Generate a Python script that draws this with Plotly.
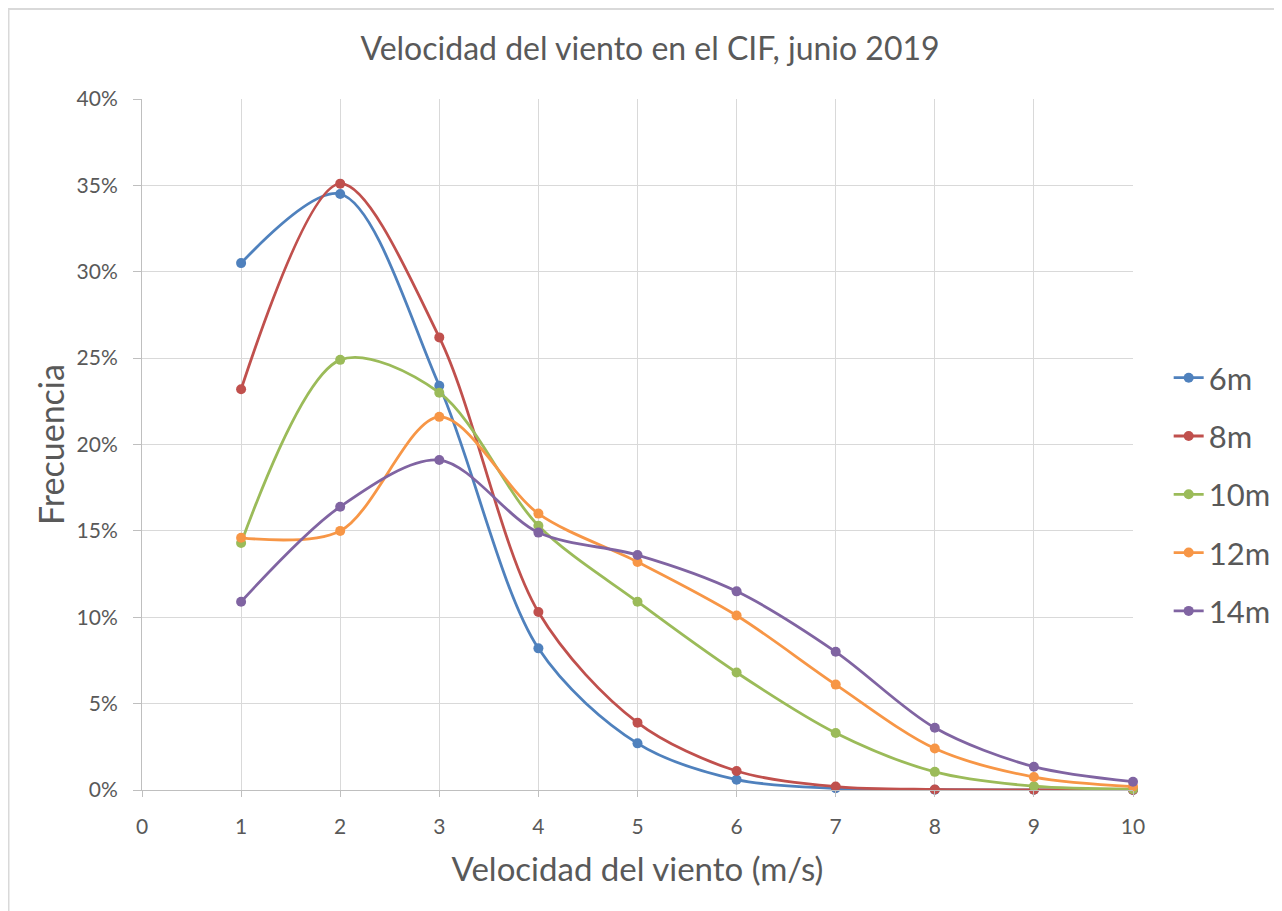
import plotly.graph_objects as go

velocidad = [1, 2, 3, 4, 5, 6, 7, 8, 9, 10]
series_names = ["6m", "8m", "10m", "12m", "14m"]
f_6m = [0.305, 0.345, 0.234, 0.082, 0.027, 0.006, 0.001, 0.0002, 0.0001, 0.0]
f_8m = [0.232, 0.351, 0.262, 0.103, 0.039, 0.011, 0.002, 0.0003, 0.0001, 0.0]
f_10m = [0.143, 0.249, 0.230, 0.153, 0.109, 0.068, 0.033, 0.0105, 0.0022, 0.0005]
f_12m = [0.146, 0.150, 0.216, 0.160, 0.132, 0.101, 0.061, 0.024, 0.0075, 0.002]
f_14m = [0.109, 0.164, 0.191, 0.149, 0.136, 0.115, 0.080, 0.036, 0.0135, 0.0048]
colors = ["#4F81BD", "#C0504D", "#9BBB59", "#F79646", "#8064A2"]
y_ticks = [0, 0.05, 0.10, 0.15, 0.20, 0.25, 0.30, 0.35, 0.40]
x_ticks = [0, 1, 2, 3, 4, 5, 6, 7, 8, 9, 10]

FONT = "Lato"
GRID = "#D9D9D9"
TXT = "#595959"

W, H = 1282, 911
L, T, R, B = 134, 91, 157, 129

fig = go.Figure()
for name, vals, col in zip(series_names, [f_6m, f_8m, f_10m, f_12m, f_14m], colors):
    fig.add_trace(go.Scatter(
        x=velocidad, y=vals, name=name, mode="lines+markers",
        line=dict(color=col, width=2.8, shape="spline", smoothing=0.9),
        marker=dict(color=col, size=10),
        legendgroup=name, cliponaxis=False,
    ))

pw = W - L - R
ph = H - T - B

fig.update_layout(
    width=W, height=H,
    paper_bgcolor="white", plot_bgcolor="white",
    margin=dict(l=L, r=R, t=T, b=B),
    title=dict(text="Velocidad del viento en el CIF, junio 2019",
               x=(642 - L) / pw, xref="paper", xanchor="center", y=1 - 41 / H, yanchor="middle",
               font=dict(family=FONT, size=32, color=TXT)),
    font=dict(family=FONT, color=TXT),
    legend=dict(x=1.036, y=0.4276, xanchor="left", yanchor="middle",
                font=dict(size=31, color=TXT), tracegroupgap=15,
                bgcolor="rgba(0,0,0,0)"),
    showlegend=True,
)
fig.update_xaxes(range=[0, 10], tickvals=x_ticks, showgrid=True, gridcolor=GRID, gridwidth=1,
                 showline=True, linecolor="#BFBFBF", linewidth=1, zeroline=False,
                 ticks="outside", ticklen=6, tickcolor="#BFBFBF", ticklabelstandoff=12,
                 tickfont=dict(size=21, color=TXT),
                 title=dict(text="Velocidad del viento (m/s)", font=dict(size=33, color=TXT), standoff=20))
fig.update_yaxes(range=[0, 0.40], tickvals=y_ticks, tickformat=".0%", showgrid=True, gridcolor=GRID,
                 gridwidth=1, showline=True, linecolor="#BFBFBF", linewidth=1, zeroline=False,
                 ticks="outside", ticklen=8, tickcolor="#BFBFBF", ticklabelstandoff=11,
                 tickfont=dict(size=21, color=TXT),
                 title=dict(text="Frecuencia", font=dict(size=34, color=TXT), standoff=1))

fig.add_shape(type="rect", xref="paper", yref="paper",
              x0=(0.5 - L) / pw, x1=1.3, y0=-0.3, y1=(H - B - 1) / ph,
              line=dict(color=GRID, width=2), fillcolor="rgba(0,0,0,0)", layer="below")

fig.write_html("out.html")
